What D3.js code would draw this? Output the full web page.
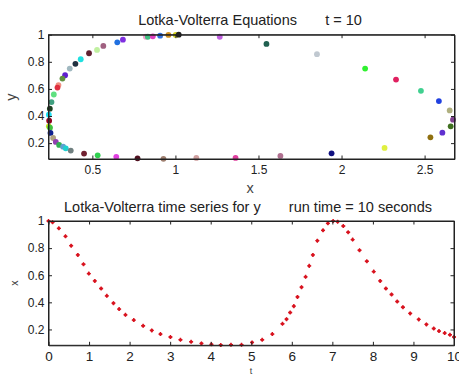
<!DOCTYPE html>
<html>
<head>
<meta charset="utf-8">
<script src="https://cdn.jsdelivr.net/npm/d3@7"></script>
<style>
  body { margin: 0; background: #fff; }
  svg { display: block; font-family: "Liberation Sans", Arial, sans-serif; }
  .axis path, .axis line { stroke: #222; }
  .axis text { fill: #222; }
  text { white-space: pre; }
</style>
</head>
<body>
<div id="chart"></div>
<script>
// phase plane snapshot at t = 10 (x, y, colour of each particle)
const phaseX = [0.822, 0.834, 0.864, 0.908, 0.958, 1.002, 1.020, 1.267, 0.650, 0.684,
  0.566, 0.528, 0.480, 0.430, 0.398, 0.364, 0.336, 0.320, 0.296, 0.290,
  0.268, 0.254, 0.244, 0.238, 0.240, 0.238, 0.245, 0.248, 0.264, 0.280,
  0.300, 0.324, 0.340, 0.370, 0.450, 0.532, 0.644, 0.772, 0.928, 1.126,
  1.362, 1.632, 1.940, 2.259, 2.535, 2.607, 2.657, 2.671, 2.651, 2.586,
  2.478, 2.328, 2.142, 1.852, 1.548];
const phaseY = [0.985, 0.985, 0.988, 0.993, 0.998, 0.998, 1.000, 0.985, 0.944, 0.963,
  0.917, 0.888, 0.863, 0.819, 0.785, 0.750, 0.701, 0.676, 0.628, 0.610,
  0.559, 0.503, 0.454, 0.410, 0.365, 0.324, 0.314, 0.275, 0.238, 0.209,
  0.187, 0.174, 0.162, 0.145, 0.123, 0.110, 0.099, 0.088, 0.084, 0.091,
  0.091, 0.106, 0.125, 0.165, 0.243, 0.277, 0.324, 0.373, 0.441, 0.510,
  0.586, 0.669, 0.750, 0.856, 0.932];
const phaseColors = ["#f0a0d0", "#40c080", "#e040c0", "#3070e0", "#d09020", "#d0d020", "#202020", "#c060e0", "#2070e0", "#8030e0",
  "#a06080", "#c0f0a0", "#602030", "#20e0e0", "#203040", "#a0b8c0", "#6020d0", "#609040", "#f09080", "#e03040",
  "#60e080", "#40a080", "#204020", "#20e0f0", "#900020", "#c0e020", "#40c040", "#102090", "#b0a080", "#9040b0",
  "#30b050", "#60a0d0", "#20d0d0", "#708080", "#702030", "#30d050", "#e040e0", "#501020", "#a08070", "#d0a0a0",
  "#e040a0", "#b07090", "#101080", "#e0f040", "#907010", "#6030d0", "#407020", "#804090", "#b0b080", "#2040e0",
  "#40d090", "#e02060", "#30f030", "#c0c8d0", "#206050"];

// time series (solver steps are uneven)
const timeT = [0, 0.1, 0.255, 0.419, 0.559, 0.723, 0.863, 0.994, 1.142, 1.298,
  1.438, 1.602, 1.742, 1.898, 2.103, 2.334, 2.547, 2.761, 3.007, 3.254,
  3.517, 3.772, 4.018, 4.248, 4.5, 4.76, 5.02, 5.27, 5.52, 5.77,
  5.87, 5.96, 6.05, 6.14, 6.24, 6.34, 6.43, 6.52, 6.63, 6.77,
  6.89, 7.02, 7.13, 7.27, 7.39, 7.5, 7.67, 7.85, 8.02, 8.18,
  8.32, 8.46, 8.6, 8.74, 8.92, 9.13, 9.32, 9.5, 9.63, 9.77,
  9.9, 10.0];
const timeX = [1.0, 0.99, 0.946, 0.887, 0.818, 0.75, 0.681, 0.612, 0.558, 0.502,
  0.448, 0.394, 0.35, 0.308, 0.269, 0.227, 0.193, 0.166, 0.144, 0.124,
  0.109, 0.097, 0.09, 0.085, 0.087, 0.087, 0.104, 0.124, 0.166, 0.242,
  0.276, 0.325, 0.372, 0.44, 0.512, 0.588, 0.669, 0.75, 0.855, 0.931,
  0.983, 1.0, 0.995, 0.963, 0.917, 0.863, 0.784, 0.703, 0.627, 0.558,
  0.502, 0.458, 0.406, 0.364, 0.318, 0.274, 0.237, 0.207, 0.188, 0.173,
  0.161, 0.144];

const phaseXTicks = [0.5, 1, 1.5, 2, 2.5];
const yTicks = [0.2, 0.4, 0.6, 0.8, 1];
const timeTicks = [0, 1, 2, 3, 4, 5, 6, 7, 8, 9, 10];

const W = 459, H = 374;
const tick = 3.5;

const svg = d3.select("#chart").append("svg")
  .attr("width", W).attr("height", H);

// draws a MATLAB style box with inward ticks on all sides
const drawFrame = (g, x, y, xTicks, xFont, xPad) => {
  const [x0, x1] = x.range(), [y1, y0] = y.range();
  const fmt = d3.format("~g");

  g.append("g").attr("class", "axis")
    .attr("transform", `translate(0,${y1})`)
    .call(d3.axisBottom(x).tickValues(xTicks).tickFormat(fmt)
      .tickSize(-tick).tickSizeOuter(0).tickPadding(xPad))
    .call(s => s.selectAll("text").attr("font-size", xFont));
  g.append("g").attr("class", "axis")
    .attr("transform", `translate(0,${y0})`)
    .call(d3.axisTop(x).tickValues(xTicks).tickFormat("").tickSize(-tick).tickSizeOuter(0));
  g.append("g").attr("class", "axis")
    .attr("transform", `translate(${x0},0)`)
    .call(d3.axisLeft(y).tickValues(yTicks).tickFormat(fmt)
      .tickSize(-tick).tickSizeOuter(0).tickPadding(4))
    .call(s => s.selectAll("text").attr("font-size", 12));
  g.append("g").attr("class", "axis")
    .attr("transform", `translate(${x1},0)`)
    .call(d3.axisRight(y).tickValues(yTicks).tickFormat("").tickSize(-tick).tickSizeOuter(0));

  g.selectAll(".axis").attr("font-family", null);
  g.append("rect")
    .attr("x", x0).attr("y", y0)
    .attr("width", x1 - x0).attr("height", y1 - y0)
    .attr("fill", "none").attr("stroke", "#222");
};

// Top: phase plane
const xPhase = d3.scaleLinear().domain([0.236, 2.68]).range([48.5, 454.5]);
const yPhase = d3.scaleLinear().domain([0.083, 1.0]).range([159, 34.7]);
const phasePanel = svg.append("g");

phasePanel.append("g")
  .selectAll("circle")
  .data(phaseX.map((v, i) => ({ x: v, y: phaseY[i], c: phaseColors[i] })))
  .enter()
  .append("circle")
  .attr("cx", d => xPhase(d.x))
  .attr("cy", d => yPhase(d.y))
  .attr("r", 2.9)
  .attr("fill", d => d.c);

drawFrame(phasePanel, xPhase, yPhase, phaseXTicks, 12, 6.5);

phasePanel.append("text")
  .attr("x", 250).attr("y", 25)
  .attr("text-anchor", "middle").attr("font-size", 14.5).attr("fill", "#222")
  .text("Lotka-Volterra Equations       t = 10");
phasePanel.append("text")
  .attr("x", 250).attr("y", 192.5)
  .attr("text-anchor", "middle").attr("font-size", 14.5).attr("fill", "#444")
  .text("x");
phasePanel.append("text")
  .attr("transform", "translate(16,97) rotate(-90)")
  .attr("text-anchor", "middle").attr("font-size", 14.5).attr("fill", "#444")
  .text("y");

// Bottom: time series, small red asterisk-like markers
const xTime = d3.scaleLinear().domain([0, 10]).range([48.5, 454]);
const yTime = d3.scaleLinear().domain([0.083, 1.0]).range([345.3, 221]);
const timePanel = svg.append("g");

const marks = timePanel.append("g")
  .selectAll("g")
  .data(timeT.map((t, i) => ({ t, v: timeX[i] })))
  .enter()
  .append("g")
  .attr("transform", d => `translate(${xTime(d.t)},${yTime(d.v)})`)
  .attr("fill", "#d8121e");
marks.append("path").attr("d", d3.symbol(d3.symbolCross, 9));
marks.append("path").attr("d", d3.symbol(d3.symbolCircle, 8));

drawFrame(timePanel, xTime, yTime, timeTicks, 13.5, 6);

timePanel.append("text")
  .attr("x", 248).attr("y", 211.5)
  .attr("text-anchor", "middle").attr("font-size", 14.5).attr("fill", "#222")
  .text("Lotka-Volterra time series for y       run time = 10 seconds");
timePanel.append("text")
  .attr("x", 251).attr("y", 373.5)
  .attr("text-anchor", "middle").attr("font-size", 9).attr("fill", "#444")
  .text("t");
timePanel.append("text")
  .attr("transform", "translate(18,283) rotate(-90)")
  .attr("text-anchor", "middle").attr("font-size", 10.5).attr("fill", "#444")
  .text("x");
</script>
</body>
</html>
